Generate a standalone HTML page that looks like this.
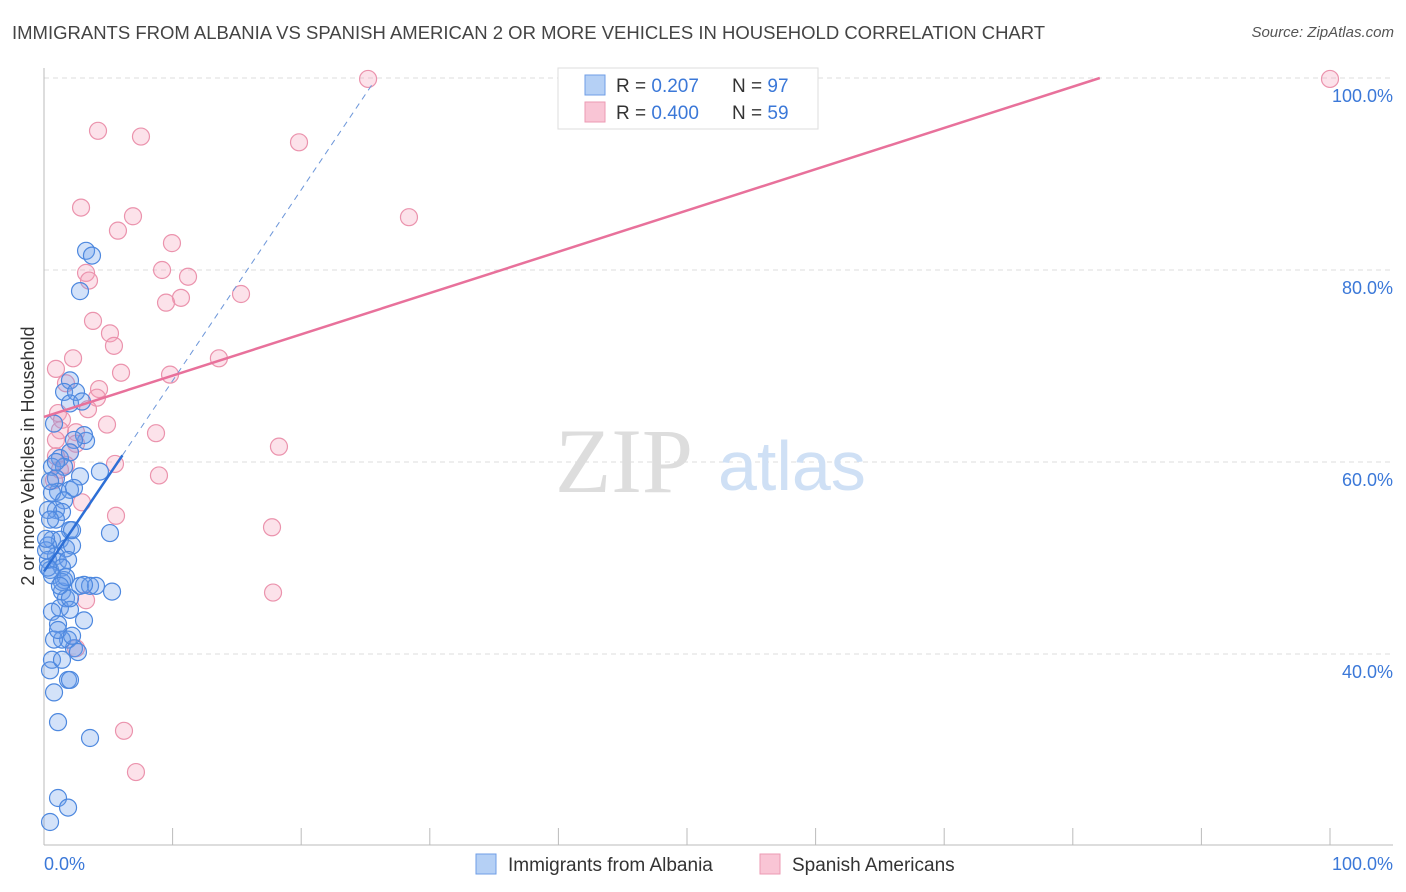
<!DOCTYPE html>
<html><head><meta charset="utf-8"><style>
body{margin:0;background:#fff;font-family:"Liberation Sans",sans-serif;}
#wrap{position:relative;width:1406px;height:892px;overflow:hidden}
.t{position:absolute;white-space:nowrap}
</style></head><body>
<div id="wrap">
<div class="t" style="left:12px;top:22px;font-size:18.5px;color:#444">IMMIGRANTS FROM ALBANIA VS SPANISH AMERICAN 2 OR MORE VEHICLES IN HOUSEHOLD CORRELATION CHART</div>
<div class="t" style="right:12px;top:24px;font-size:15px;color:#555;font-style:italic">Source: ZipAtlas.com</div>
<svg id="svg" width="1406" height="892" style="position:absolute;left:0;top:0"></svg>
</div>
<script>
const blueX=[3.27,3.73,2.8,2.02,1.56,2.49,2.02,2.95,3.27,3.11,0.78,2.33,1.24,2.02,0.62,1.56,2.8,0.93,4.35,1.09,0.62,2.02,2.33,1.56,0.93,1.4,2.02,0.62,1.24,0.31,1.71,2.18,0.93,0.31,1.09,1.87,0.47,1.4,5.13,5.29,2.8,3.58,4.04,1.4,1.71,1.24,2.02,0.62,1.09,1.87,2.33,1.4,0.78,0.62,0.47,0.78,1.09,3.58,1.09,1.87,0.47,1.56,3.11,0.93,2.18,0.31,0.47,0.16,0.31,0.62,1.4,1.71,1.24,2.02,1.09,2.18,3.11,2.64,1.87,2.02,1.4,0.16,0.47,0.93];
const blueY=[82.0,81.5,77.8,68.5,67.3,67.3,66.1,66.3,62.2,62.8,64.0,62.3,60.4,61.0,59.5,59.5,58.5,58.3,59.0,56.9,56.8,57.1,57.3,56.0,55.0,54.8,52.9,51.9,51.9,51.3,51.0,51.3,50.2,49.8,49.6,49.8,48.75,49.0,52.6,46.5,47.1,47.1,47.1,46.5,45.8,44.8,44.6,44.4,43.1,41.5,40.6,41.5,41.5,39.4,38.3,36.0,32.9,31.25,25.0,24.0,22.5,47.7,47.2,54.0,52.9,55.0,54.0,50.8,49.0,48.2,47.5,48.0,47.1,45.8,42.5,41.9,43.5,40.2,37.3,37.3,39.4,52.0,58.0,60.0];
const pinkX=[25.2,100,4.2,7.54,19.83,2.88,6.92,28.38,5.75,9.95,9.18,3.27,3.5,11.2,15.32,10.65,9.49,3.81,5.13,5.44,2.26,13.6,5.99,9.8,0.93,1.71,4.28,4.12,3.42,1.09,1.4,4.9,1.24,2.49,0.93,2.49,8.71,18.27,2.02,0.93,1.71,5.52,8.94,2.95,5.6,17.73,17.81,3.27,2.49,6.22,7.15,0.78,1.24];
const pinkY=[99.9,99.9,94.5,93.9,93.3,86.5,85.6,85.5,84.1,82.8,80.0,79.7,78.9,79.3,77.5,77.1,76.6,74.7,73.4,72.1,70.8,70.8,69.3,69.1,69.7,68.2,67.6,66.7,65.5,65.1,64.4,63.9,63.3,63.1,62.3,61.9,63.0,61.6,61.0,60.6,59.7,59.8,58.6,55.8,54.4,53.2,46.4,45.6,40.6,32.0,27.7,58.1,59.2];
const yTicks=[40,60,80,100];
const xTickLabels=["0.0%","100.0%"];
const blueLine=[[0,48.6],[6.1,60.7],[25.5,99.3]];
const pinkLine=[[0,64.7],[82.1,100]];
const sx=v=>44+v*12.86, sy=v=>1038-v*9.6;
const NS="http://www.w3.org/2000/svg", svg=document.getElementById('svg');
function mk(t,a){const e=document.createElementNS(NS,t);for(const k in a)e.setAttribute(k,a[k]);svg.appendChild(e);return e;}
yTicks.forEach(v=>{
 const l=mk('line',{x1:44,x2:1393,y1:sy(v),y2:sy(v),stroke:'#ddd','stroke-dasharray':'5,4'});
 
 
 const t=mk('text',{x:1393,y:sy(v)+24,'text-anchor':'end','font-size':18,fill:'#3b78d8'});
 t.textContent=v.toFixed(1)+'%';
 
 
});
mk('line',{x1:44,x2:44,y1:68,y2:845,stroke:'#bbb'});
mk('line',{x1:44,x2:1393,y1:845,y2:845,stroke:'#bbb'});
for(let i=0;i<=10;i++){mk('line',{x1:sx(i*10),x2:sx(i*10),y1:828,y2:845,stroke:'#bbb'});}
xTickLabels.forEach((s,i)=>{const t=mk('text',{x:i?1393:44,y:870,'text-anchor':i?'end':'start','font-size':18,fill:'#3b78d8'});t.textContent=s;
 
 });
const yt=mk('text',{x:34,y:456,'text-anchor':'middle','font-size':18,fill:'#333',transform:'rotate(-90 34 456)'});yt.textContent='2 or more Vehicles in Household';


const w1=mk('text',{x:555,y:492,'font-size':92,fill:'#ddd','font-family':'Liberation Serif'});w1.textContent='ZIP';
const w2=mk('text',{x:718,y:490,'font-size':70,fill:'#cfe0f5'});w2.textContent='atlas';
pinkX.forEach((x,i)=>{const c=mk('circle',{cx:sx(x),cy:sy(pinkY[i]),r:8.5,fill:'rgba(244,160,185,0.3)',stroke:'#eb93ad','stroke-width':1.2});
 
 });
blueX.forEach((x,i)=>{const c=mk('circle',{cx:sx(x),cy:sy(blueY[i]),r:8.5,fill:'rgba(110,160,235,0.3)',stroke:'#4d88df','stroke-width':1.2});
 
 });
const bl=mk('line',{x1:sx(blueLine[0][0]),y1:sy(blueLine[0][1]),x2:sx(blueLine[1][0]),y2:sy(blueLine[1][1]),stroke:'#2d6fd6','stroke-width':2.5});


mk('line',{x1:sx(blueLine[1][0]),y1:sy(blueLine[1][1]),x2:sx(blueLine[2][0]),y2:sy(blueLine[2][1]),stroke:'#6f98da','stroke-width':1,'stroke-dasharray':'6,5'});
const pl=mk('line',{x1:sx(pinkLine[0][0]),y1:sy(pinkLine[0][1]),x2:sx(pinkLine[1][0]),y2:sy(pinkLine[1][1]),stroke:'#e8719b','stroke-width':2.5});


// top legend
const lg=mk('rect',{x:558,y:68,width:260,height:61,fill:'#fff',stroke:'#ddd'});


[[0,'#b5d0f5','#6f9ee6','0.207','97'],[1,'#f9c5d5','#ec9ab3','0.400','59']].forEach(r=>{
 const y=75+r[0]*27;
 mk('rect',{x:585,y:y,width:20,height:20,fill:r[1],stroke:r[2]});
 const t=mk('text',{x:616,y:y+17,'font-size':19,fill:'#333'});
 t.innerHTML='R = <tspan fill="#3b78d8"> '+r[3]+'</tspan><tspan x="732">N = </tspan><tspan fill="#3b78d8">'+r[4]+'</tspan>';
 
 
});
// bottom legend
[[476,'#b5d0f5','#6f9ee6','Immigrants from Albania'],[760,'#f9c5d5','#ec9ab3','Spanish Americans']].forEach(r=>{
 mk('rect',{x:r[0],y:854,width:20,height:20,fill:r[1],stroke:r[2]});
 const t=mk('text',{x:r[0]+32,y:871,'font-size':19,fill:'#333'});t.textContent=r[3];
 
 
});
</script>
</body></html>
